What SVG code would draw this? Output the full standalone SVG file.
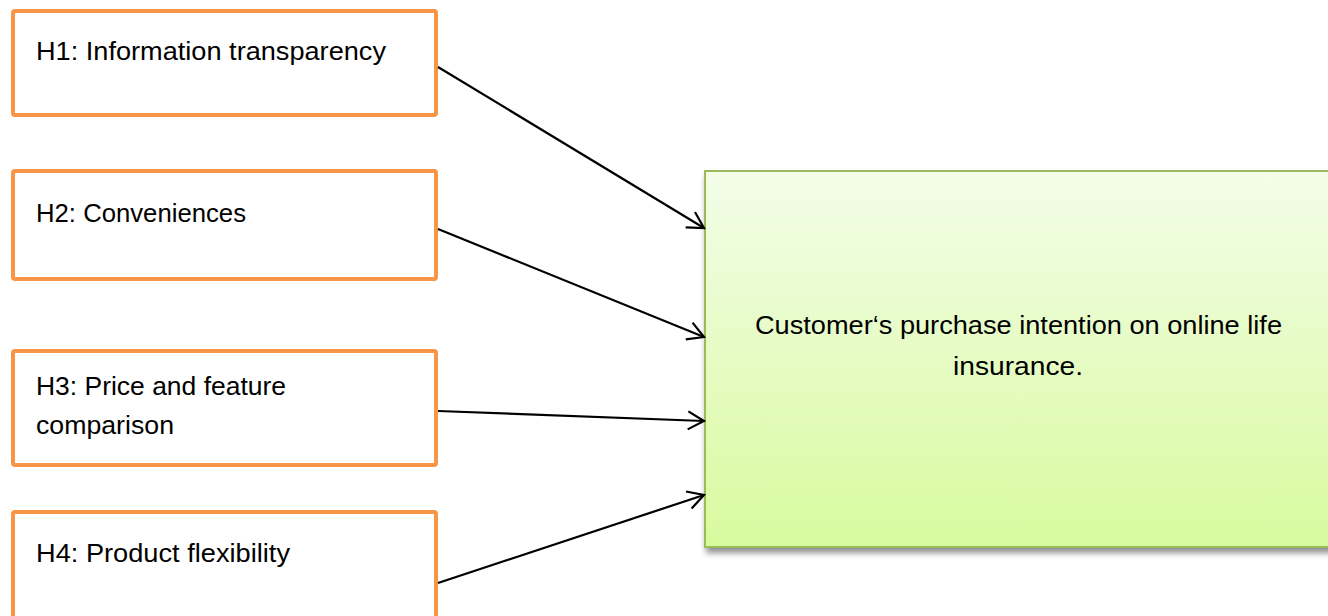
<svg xmlns="http://www.w3.org/2000/svg" width="1328" height="616" viewBox="0 0 1328 616">
  <style>
    .hyp { fill: #ffffff; stroke: #f79646; stroke-width: 4; }
    .lbl { font-family: "Liberation Sans", Arial, sans-serif; font-size: 26px; fill: #000000; }
    .conn { stroke: #000000; stroke-width: 2.2; fill: none; marker-end: url(#arrow); }
  </style>
  <defs>
    <linearGradient id="greenFill" x1="0" y1="0" x2="0" y2="1">
      <stop offset="0" stop-color="#f3fde9"/>
      <stop offset="1" stop-color="#d8fa9e"/>
    </linearGradient>
    <filter id="shadow" x="-5%" y="-5%" width="115%" height="115%">
      <feGaussianBlur in="SourceAlpha" stdDeviation="3"/>
      <feOffset dx="2" dy="5" result="blur"/>
      <feComponentTransfer><feFuncA type="linear" slope="0.45"/></feComponentTransfer>
      <feMerge><feMergeNode/><feMergeNode in="SourceGraphic"/></feMerge>
    </filter>
    <marker id="arrow" markerWidth="22" markerHeight="22" refX="19" refY="11" orient="auto" markerUnits="userSpaceOnUse">
      <path d="M3,2 L19,11 L3,20" fill="none" stroke="#000000" stroke-width="2.2"/>
    </marker>
  </defs>

  <!-- outcome -->
  <g id="outcome">
    <rect x="705" y="171" width="640" height="376" fill="url(#greenFill)" stroke="#9bbb59" stroke-width="2" filter="url(#shadow)"/>
    <text class="lbl" x="755" y="334" textLength="527" lengthAdjust="spacingAndGlyphs">Customer‘s purchase intention on online life</text>
    <text class="lbl" x="953" y="375" textLength="130" lengthAdjust="spacingAndGlyphs">insurance.</text>
  </g>

  <!-- hypotheses -->
  <g id="h1">
    <rect class="hyp" x="13" y="11" width="423" height="104" rx="2"/>
    <text class="lbl" x="36" y="60" textLength="350" lengthAdjust="spacingAndGlyphs">H1: Information transparency</text>
  </g>
  <g id="h2">
    <rect class="hyp" x="13" y="171" width="423" height="108" rx="2"/>
    <text class="lbl" x="36" y="222" textLength="210" lengthAdjust="spacingAndGlyphs">H2: Conveniences</text>
  </g>
  <g id="h3">
    <rect class="hyp" x="13" y="351" width="423" height="114" rx="2"/>
    <text class="lbl" x="36" y="395" textLength="250" lengthAdjust="spacingAndGlyphs">H3: Price and feature</text>
    <text class="lbl" x="36" y="434" textLength="138" lengthAdjust="spacingAndGlyphs">comparison</text>
  </g>
  <g id="h4">
    <rect class="hyp" x="13" y="512" width="423" height="120" rx="2"/>
    <text class="lbl" x="36" y="562" textLength="254" lengthAdjust="spacingAndGlyphs">H4: Product flexibility</text>
  </g>

  <!-- connectors -->
  <g id="connectors">
    <line class="conn" x1="438" y1="67" x2="704" y2="228"/>
    <line class="conn" x1="438" y1="229" x2="704" y2="337"/>
    <line class="conn" x1="438" y1="411" x2="704" y2="421"/>
    <line class="conn" x1="438" y1="583" x2="704" y2="495"/>
  </g>
</svg>
